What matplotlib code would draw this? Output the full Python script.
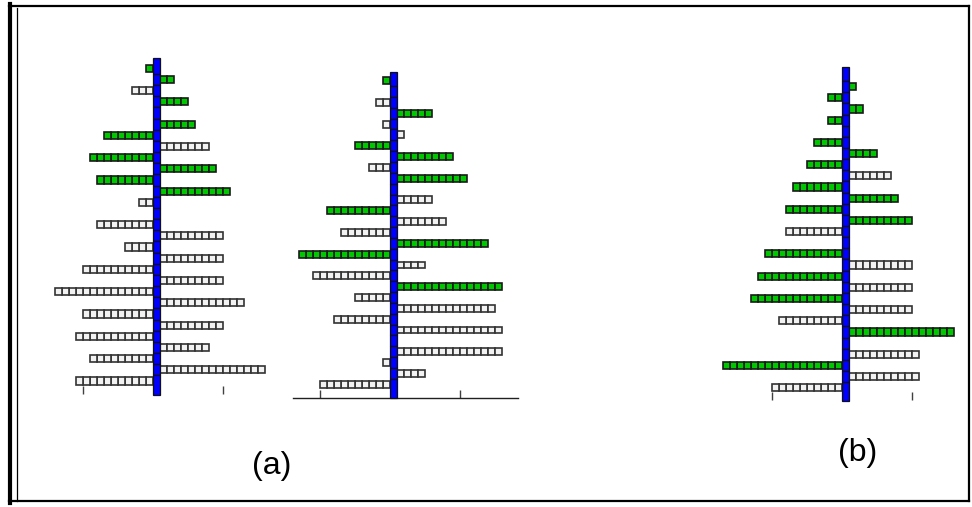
import numpy as np
import matplotlib
matplotlib.use("Agg")
import matplotlib.pyplot as plt
from matplotlib.lines import Line2D

# ---------------- data (cells per row, top to bottom; odd rows go left, even rows right)
lensA = [1, 2, 3, 4, 0, 5, 7, 7, 9, 8, 8, 10, 2, 0, 8, 9, 4, 9, 10, 9, 14, 12, 10, 9, 11, 7, 9, 15, 11]
colsA = "ggwg-ggwggggw-wwwwwwwwwwwwwww"

lensB = [1, 0, 2, 5, 1, 1, 5, 8, 3, 10, 0, 5, 9, 7, 7, 13, 13, 4, 11, 15, 5, 14, 8, 15, 0, 15, 1, 4, 10]
colsB = "g-wgwwggwg-wgwwggwwgwwww-wwww"

lensC = [0, 1, 2, 2, 2, 0, 4, 4, 5, 6, 7, 7, 8, 9, 8, 0, 11, 9, 12, 9, 13, 9, 9, 15, 0, 10, 17, 10, 10]
colsC = "-gggg-gggwggggw-gwgwgwwg-wgww"

xticks = [-10.5, 9.5]
labels = ["(a)", "(b)"]

# ---------------- layout (pixels)
W, H = 972, 507
CELL = 7.0
# cx, row1 y, pitch, column top, column bottom, axes bottom, xlim
panels = [
    (lensA, colsA, 156.5, 68.3, 11.17, 58, 395, 394, None),
    (lensB, colsB, 393.5, 80.7, 10.84, 72, 398, 398, (293, 518)),
    (lensC, colsC, 845.5, 75.5, 11.15, 67, 401, 400, None),
]

FACE = {"g": "#00c800", "w": "#f2f2f2"}
EDGE = {"g": "#1a1a1a", "w": "#333333"}

fig = plt.figure(figsize=(W / 100, H / 100), dpi=100)

for lens, cols, cx, y1, pitch, ctop, cbot, abot, xr in panels:
    if xr is None:
        x0, x1 = -18.0, 18.0
    else:
        x0, x1 = (xr[0] - cx) / CELL, (xr[1] - cx) / CELL
    left_px = cx + x0 * CELL
    w_px = (x1 - x0) * CELL
    ax = fig.add_axes([left_px / W, 1 - abot / H, w_px / W, (abot - ctop) / H])
    ax.set_facecolor("none")
    ax.set_xlim(x0, x1)
    ytop = 1 - (y1 - ctop) / pitch
    ybot = 1 + (abot - y1) / pitch
    ax.set_ylim(ybot, ytop)

    # cells of the bars
    ys, lefts, fcs, ecs = [], [], [], []
    for i, (n, c) in enumerate(zip(lens, cols)):
        row = i + 1
        for k in range(n):
            ys.append(row)
            if row % 2 == 1:
                lefts.append(-0.5 - (k + 1))
            else:
                lefts.append(0.5 + k)
            fcs.append(FACE[c])
            ecs.append(EDGE[c])
    ax.barh(ys, 1, left=lefts, height=0.64, color=fcs, edgecolor=ecs, linewidth=1.2, zorder=2)

    # blue centre column, segmented per row
    c0 = 1 - (y1 - ctop) / pitch
    c1 = 1 + (cbot - y1) / pitch
    edges = np.concatenate([[c0], np.arange(1.5, len(lens) + 0.5, 1.0), [c1]])
    ax.bar(np.zeros(len(edges) - 1), np.diff(edges), bottom=edges[:-1], width=1.0,
           color="#0000ff", edgecolor="#101010", linewidth=0.9, zorder=3, clip_on=False)

    for s in ["top", "right", "left", "bottom"]:
        ax.spines[s].set_visible(False)
    if xr is not None:
        ax.spines["bottom"].set_visible(True)
        ax.spines["bottom"].set_color("#202020")
        ax.spines["bottom"].set_linewidth(1.0)
    ax.set_yticks([])
    ax.set_xticks(xticks)
    ax.tick_params(axis="x", direction="in", length=5.5, width=1.0, color="#404040",
                   labelbottom=False)

# ---------------- frame
def px(x, y):
    return x / W, 1 - y / H

for (xa, ya), (xb, yb), lw in [((10, 4), (10, 503), 3.0),
                               ((9, 6), (969, 6), 1.6),
                               ((969, 6), (969, 501), 1.6),
                               ((9, 501), (969, 501), 1.6),
                               ((16.5, 8), (16.5, 501), 0.9)]:
    pa, pb = px(xa, ya), px(xb, yb)
    fig.add_artist(Line2D([pa[0], pb[0]], [pa[1], pb[1]], color="black", lw=lw,
                          transform=fig.transFigure))

fig.text(272 / W, 1 - 466 / H, labels[0], ha="center", va="center",
         fontsize=23, family="Liberation Sans")
fig.text(858 / W, 1 - 453 / H, labels[1], ha="center", va="center",
         fontsize=23, family="Liberation Sans")

fig.savefig("out.png", dpi=100, facecolor="white")
